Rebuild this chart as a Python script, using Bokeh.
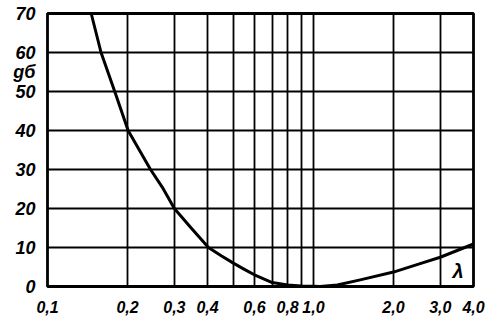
from bokeh.plotting import figure
from bokeh.models import FixedTicker, Label, Range1d
from bokeh.embed import file_html
from bokeh.resources import INLINE

lam = [0.146, 0.159, 0.179, 0.201, 0.244, 0.27, 0.3, 0.345, 0.403, 0.45, 0.5, 0.55, 0.6, 0.7, 0.8, 0.9, 1.0, 1.06,
       1.23, 1.5, 2.0, 2.52, 3.0, 4.0]
gb = [70, 60, 50, 40, 30, 25.5, 20, 15.2, 10, 7.9, 6.0, 4.4, 3.0, 1.0, 0.4, 0.15, 0.05, 0.0,
      0.4, 1.7, 3.7, 5.85, 7.5, 10.9]

x_ticks = [0.1, 0.2, 0.3, 0.4, 0.5, 0.6, 0.7, 0.8, 0.9, 1.0, 2.0, 3.0, 4.0]
x_labels = ["0,1", "0,2", "0,3", "0,4", "", "0,6", "", "0,8", "", "1,0", "2,0", "3,0", "4,0"]
y_ticks = [0, 10, 20, 30, 40, 50, 60, 70]
y_labels = ["0", "10", "20", "30", "40", "50", "60", "70"]
y_title = "gб"
y_title_pos = 55
x_title = "λ"

FONT = "Liberation Sans"

p = figure(width=500, height=316, x_axis_type="log", output_backend="svg",
           toolbar_location=None, x_range=Range1d(0.1, 4.0), y_range=Range1d(0, 70),
           min_border_left=47, min_border_right=27, min_border_top=13, min_border_bottom=30)
p.background_fill_color = "white"
p.border_fill_color = "white"
p.outline_line_color = "black"
p.outline_line_width = 2.8

p.xaxis.ticker = FixedTicker(ticks=x_ticks)
p.xaxis.major_label_overrides = {t: l for t, l in zip(x_ticks, x_labels)}
p.yaxis.ticker = FixedTicker(ticks=y_ticks + [y_title_pos])
ov = {t: l for t, l in zip(y_ticks, y_labels)}
ov[y_title_pos] = y_title
p.yaxis.major_label_overrides = ov

for ax in (p.xaxis[0], p.yaxis[0]):
    ax.axis_line_color = None
    ax.major_tick_line_color = None
    ax.minor_tick_line_color = None
    ax.major_label_text_font = FONT
    ax.major_label_text_font_style = "bold italic"
    ax.major_label_text_color = "black"
p.yaxis.major_label_text_font_size = "18px"
p.xaxis.major_label_text_font_size = "16px"
p.xaxis.major_label_standoff = 8
p.yaxis.major_label_standoff = 6

p.xgrid.ticker = FixedTicker(ticks=x_ticks)
p.ygrid.ticker = FixedTicker(ticks=y_ticks)
for g in (p.xgrid[0], p.ygrid[0]):
    g.grid_line_color = "black"
    g.grid_line_width = 1.8
    g.grid_line_alpha = 1.0

p.line(lam, gb, line_color="black", line_width=3, line_join="round")

p.add_layout(Label(x=3.54, y=1.2, x_offset=-7, text=x_title, text_font=FONT,
                   text_font_style="bold italic", text_font_size="20px", text_color="black"))

open("out.html", "w").write(file_html(p, INLINE))
